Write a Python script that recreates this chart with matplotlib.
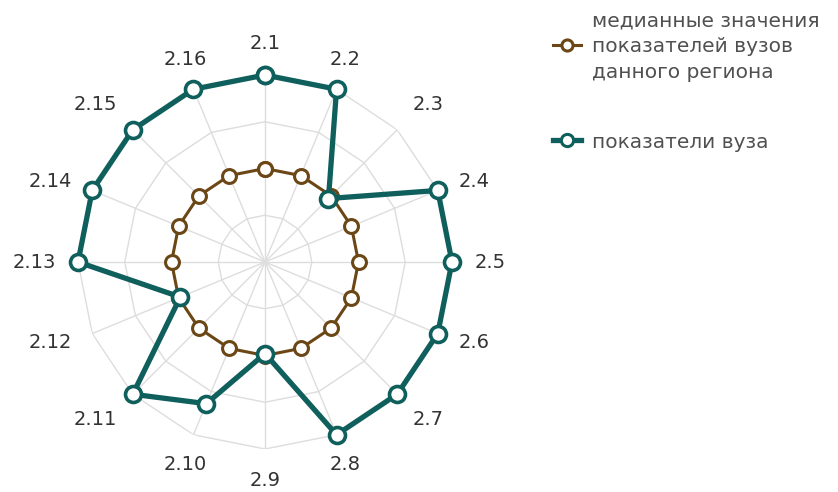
import numpy as np
import matplotlib
matplotlib.use("Agg")
import matplotlib.pyplot as plt
from matplotlib.lines import Line2D

# axes labels, clockwise from the top
labels = ["2.1", "2.2", "2.3", "2.4", "2.5", "2.6", "2.7", "2.8",
          "2.9", "2.10", "2.11", "2.12", "2.13", "2.14", "2.15", "2.16"]
median_vals = [0.5] * 16
univ_vals = [1.0, 1.0, 0.48, 1.0, 1.0, 1.0, 1.0, 1.0,
             0.49, 0.82, 1.0, 0.49, 1.0, 1.0, 1.0, 1.0]
legend_labels = ["медианные значения\nпоказателей вузов\nданного региона",
                 "показатели вуза"]

teal = "#0f5f5c"
brown = "#6b4716"
grid_col = "#dddddd"

W, H = 838, 492
fig = plt.figure(figsize=(W / 100, H / 100), dpi=100)
cx, cy, R = 265, 262, 187
ax = fig.add_axes([(cx - R) / W, (H - cy - R) / H, 2 * R / W, 2 * R / H], polar=True)
ax.set_theta_zero_location("N")
ax.set_theta_direction(-1)
ax.set_ylim(0, 1)
ax.axis("off")

n = len(labels)
ang = np.linspace(0, 2 * np.pi, n, endpoint=False)
ang_c = np.append(ang, ang[0])

# polygon grid
for lev in [0.25, 0.5, 0.75, 1.0]:
    ax.plot(ang_c, [lev] * (n + 1), color=grid_col, lw=1, zorder=1)
for a in ang:
    ax.plot([a, a], [0, 1], color=grid_col, lw=1, zorder=1)

med = np.append(median_vals, median_vals[0])
uni = np.append(univ_vals, univ_vals[0])
ax.plot(ang_c, med, color=brown, lw=2.2, marker="o", ms=10, mfc="white",
        mec=brown, mew=2.2, zorder=3, clip_on=False)
ax.plot(ang_c, uni, color=teal, lw=3.8, marker="o", ms=11.5, mfc="white",
        mec=teal, mew=2.6, zorder=4, clip_on=False)

for a, lab in zip(ang, labels):
    s, c = np.sin(a), np.cos(a)
    ha = "center" if abs(s) < 0.5 else ("left" if s > 0 else "right")
    va = "center" if abs(c) < 0.5 else ("bottom" if c > 0 else "top")
    ax.text(a, 1.12, lab, ha=ha, va=va, fontsize=14,
            color="#333333", clip_on=False)

# legend
items = [(45, brown, 2.2, 10), (140, teal, 3.8, 11)]
for (y, c, lw, ms), lab in zip(items, legend_labels):
    yf = 1 - y / H
    fig.add_artist(Line2D([553 / W, 567 / W, 581 / W], [yf, yf, yf], color=c, lw=lw,
                          marker="o", markevery=[1], ms=ms * 0.8, mfc="white",
                          mec=c, mew=2.2, transform=fig.transFigure))
    fig.text(592 / W, yf - 2 / H, lab, ha="left", va="center", fontsize=14.5,
             color="#505050", linespacing=1.45)

fig.savefig("out.png", dpi=100)
